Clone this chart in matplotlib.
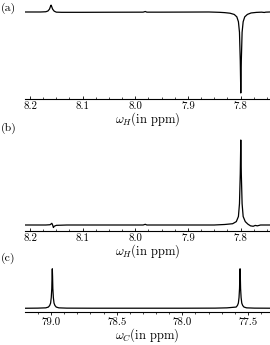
import matplotlib
matplotlib.use("Agg")
import matplotlib.pyplot as plt
from matplotlib.ticker import MultipleLocator, FormatStrFormatter

plt.rcParams['font.family'] = 'serif'
plt.rcParams['font.serif'] = ['cmr10']
plt.rcParams['mathtext.fontset'] = 'cm'
plt.rcParams['axes.formatter.use_mathtext'] = True

# ---- data ----
a_ppm = [8.2095, 8.18, 8.170, 8.166, 8.163, 8.161, 8.160, 8.159, 8.157, 8.154, 8.150, 8.14,
         8.10, 8.05, 7.985, 7.981, 7.978, 7.95, 7.90, 7.86, 7.84, 7.83, 7.82, 7.812, 7.807,
         7.804, 7.802, 7.8005, 7.7995, 7.7985, 7.797, 7.795, 7.792, 7.787, 7.78, 7.77, 7.76,
         7.755, 7.752, 7.744]
a_int = [0.0, 0.0, 0.003, 0.012, 0.035, 0.07, 0.085, 0.07, 0.035, 0.01, -0.002, -0.004,
         -0.004, -0.003, -0.002, 0.006, -0.002, -0.002, -0.001, 0.0, -0.004, -0.008, -0.015,
         -0.03, -0.06, -0.12, -0.25, -0.6, -1.0, -0.6, -0.25, -0.12, -0.06, -0.03, -0.012,
         -0.005, -0.002, -0.006, -0.002, 0.0]

b_ppm = [8.2095, 8.17, 8.162, 8.160, 8.1585, 8.157, 8.1555, 8.154, 8.150, 8.13, 7.985, 7.981,
         7.978, 7.85, 7.83, 7.815, 7.808, 7.804, 7.802, 7.8005, 7.7995, 7.7985, 7.797, 7.795,
         7.791, 7.786, 7.781, 7.776, 7.772, 7.768, 7.762, 7.744]
b_int = [0.0, 0.0, 0.003, 0.012, 0.02, 0.0, -0.03, -0.015, -0.004, 0.0, 0.0, 0.008,
         0.0, 0.0, 0.006, 0.015, 0.04, 0.1, 0.25, 0.6, 1.0, 0.6, 0.25, 0.1,
         0.04, 0.01, -0.01, -0.015, -0.005, -0.01, 0.0, 0.0]

c_ppm = [79.198, 79.10, 79.04, 79.02, 79.01, 79.003, 78.998, 78.994, 78.992, 78.990, 78.988,
         78.986, 78.982, 78.977, 78.970, 78.960, 78.94, 78.88, 78.7, 78.0, 77.75, 77.66,
         77.59, 77.58, 77.573, 77.568, 77.564, 77.562, 77.560, 77.558, 77.556, 77.552,
         77.547, 77.54, 77.53, 77.51, 77.45, 77.332]
c_int = [0.0, 0.003, 0.01, 0.03, 0.07, 0.13, 0.27, 0.5, 0.8, 1.0, 0.8,
         0.5, 0.27, 0.13, 0.07, 0.03, 0.01, 0.003, 0.001, 0.001, 0.003, 0.01,
         0.03, 0.07, 0.13, 0.27, 0.5, 0.8, 1.0, 0.8, 0.5, 0.27,
         0.13, 0.07, 0.03, 0.01, 0.003, 0.001]

h_ticks = [8.2, 8.1, 8.0, 7.9, 7.8]
c_ticks = [79.0, 78.5, 78.0, 77.5]
panel_labels = ['(a)', '(b)', '(c)']

W, H = 270, 345
fig = plt.figure(figsize=(W / 100, H / 100), dpi=100)

def ax_px(left, right, top, bottom):
    return fig.add_axes([left / W, 1 - bottom / H, (right - left) / W, (bottom - top) / H])

axa = ax_px(25, 270, 3, 99)
axb = ax_px(25, 270, 135, 231)
axc = ax_px(25, 270, 266, 312)

lw = 0.9
axa.plot(a_ppm, a_int, color='black', lw=lw)
axb.plot(b_ppm, b_int, color='black', lw=lw)
axc.plot(c_ppm, c_int, color='black', lw=lw)

axa.set_xlim(8.2095, 7.744)
axb.set_xlim(8.2095, 7.744)
axc.set_xlim(79.198, 77.332)
axa.set_ylim(-1.074, 0.111)
axb.set_ylim(-0.0706, 1.0588)
axc.set_ylim(-0.095, 1.071)

for ax, ticks, minor, direction in [(axa, h_ticks, 0.025, 'in'), (axb, h_ticks, 0.025, 'in'),
                                    (axc, c_ticks, 0.1, 'out')]:
    for s in ['top', 'left', 'right']:
        ax.spines[s].set_visible(False)
    ax.spines['bottom'].set_linewidth(0.8)
    ax.set_yticks([])
    ax.set_xticks(ticks)
    ax.xaxis.set_major_formatter(FormatStrFormatter('%.1f'))
    ax.xaxis.set_minor_locator(MultipleLocator(minor))
    ax.tick_params(axis='x', which='major', direction=direction, length=2.5, width=0.6,
                   labelsize=7.8, pad=1.5)
    ax.tick_params(axis='x', which='minor', direction=direction, length=1.5, width=0.5)
    ax.patch.set_alpha(0)

axa.set_xlabel(r'$\omega_H$(in ppm)', fontsize=9, labelpad=-0.5)
axb.set_xlabel(r'$\omega_H$(in ppm)', fontsize=9, labelpad=0)
axc.set_xlabel(r'$\omega_C$(in ppm)', fontsize=9, labelpad=-0.5)

for lab, y in zip(panel_labels, [8, 128, 258]):
    fig.text(1 / W, 1 - y / H, lab, fontsize=8.5, ha='left', va='center')

fig.savefig('out.png', dpi=100)
